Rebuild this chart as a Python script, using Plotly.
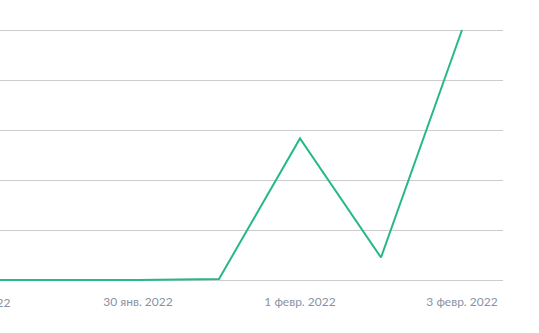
import plotly.graph_objects as go
import pandas as pd

dates = ["2022-01-28", "2022-01-29", "2022-01-30", "2022-01-31",
         "2022-02-01", "2022-02-02", "2022-02-03"]
values = [0, 0, 0, 0.2, 28.3, 4.5, 50]

tick_vals = ["2022-01-28", "2022-01-30", "2022-02-01", "2022-02-03"]
tick_text = ["28 янв. 2022", "30 янв. 2022", "1 февр. 2022", "3 февр. 2022"]

x_start = pd.Timestamp("2022-01-28 07:07")
x_end = pd.Timestamp("2022-02-03 12:09")

tick_font = dict(family="Lato, Open Sans, sans-serif", size=12, color="#8892a4")

fig = go.Figure()
fig.add_trace(go.Scatter(x=dates, y=values, mode="lines",
                         line=dict(color="#27b889", width=2),
                         hoverinfo="skip"))

fig.update_xaxes(range=[x_start, x_end], tickvals=tick_vals[1:], ticktext=tick_text[1:],
                 showgrid=False, zeroline=False, showline=False, ticks="",
                 ticklabelstandoff=8, tickfont=tick_font)
fig.update_yaxes(range=[-1, 51], dtick=10, tick0=0, showticklabels=False,
                 showgrid=True, gridcolor="#cccccc", gridwidth=1,
                 zeroline=False, showline=False, ticks="")

# first tick label lies left of the visible range and is clipped at the edge
span = (x_end - x_start).total_seconds()
frac = (pd.Timestamp(tick_vals[0]) - x_start).total_seconds() / span
fig.add_annotation(x=frac, xref="paper", y=0, yref="paper", yanchor="top", yshift=-8,
                   text=tick_text[0], showarrow=False, xanchor="center", font=tick_font)

fig.update_layout(width=539, height=333, margin=dict(l=0, r=36, t=25, b=48),
                  plot_bgcolor="white", paper_bgcolor="white", showlegend=False)

fig.write_html("out.html")
